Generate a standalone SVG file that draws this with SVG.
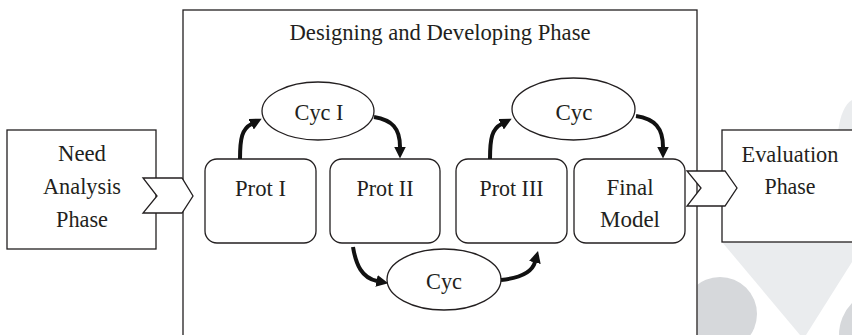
<svg xmlns="http://www.w3.org/2000/svg" width="852" height="335" viewBox="0 0 852 335">
<style>
.box{fill:#fff;stroke:#231f20;stroke-width:1.3}
.frame{fill:none;stroke:#231f20;stroke-width:1.3}
.t{font-size:24px;fill:#231f20;text-anchor:middle}
.conn{fill:none;stroke:#111;stroke-width:4}
.wl{fill:#eaecee}
.wd{fill:#d6d8db}
</style>
<defs>
<marker id="ah" viewBox="0 0 12 12" refX="0.5" refY="6" markerWidth="12" markerHeight="12" markerUnits="userSpaceOnUse" orient="auto">
<path d="M0,0 L12,6 L0,12 Z" fill="#111"/>
</marker>
<clipPath id="wm"><rect x="697.5" y="0" width="160" height="335"/></clipPath>
</defs>
<rect x="0" y="0" width="852" height="335" fill="#fff"/>
<g id="watermark" clip-path="url(#wm)">
<path class="wl" d="M852,100 C845,104 840,115 838,132 L852,132 Z"/>
<polygon class="wl" points="722,242 852,242 852,262 806,335 800,335"/>
<circle class="wd" cx="720" cy="314" r="37"/>
<circle class="wd" cx="885" cy="335" r="46"/>
</g>
<g font-family="Liberation Serif, Times New Roman, serif">
<g id="main-phase">
<rect class="frame" x="183" y="10" width="514" height="340"/>
<text class="t" x="440" y="40" textLength="301" lengthAdjust="spacingAndGlyphs">Designing and Developing Phase</text>
</g>
<g id="need-analysis">
<rect class="box" x="7" y="130" width="149" height="119"/>
<text class="t" x="82" y="161" textLength="48" lengthAdjust="spacingAndGlyphs">Need</text>
<text class="t" x="82" y="194" textLength="78" lengthAdjust="spacingAndGlyphs">Analysis</text>
<text class="t" x="82" y="227" textLength="52" lengthAdjust="spacingAndGlyphs">Phase</text>
</g>
<g id="evaluation">
<rect class="box" x="722" y="130" width="140" height="112"/>
<text class="t" x="790" y="162" textLength="97" lengthAdjust="spacingAndGlyphs">Evaluation</text>
<text class="t" x="790" y="194" textLength="51" lengthAdjust="spacingAndGlyphs">Phase</text>
</g>
<g id="chevron-in">
<polygon class="box" points="143,178 182,178 193,196 182,213 143,213 157,196"/>
</g>
<g id="chevron-out">
<polygon class="box" points="687,171 725,171 737,188 725,206 687,206 701,188"/>
</g>
<g id="prot1">
<rect class="box" x="205" y="159" width="111" height="84" rx="12"/>
<text class="t" x="260.5" y="196" textLength="51" lengthAdjust="spacingAndGlyphs">Prot I</text>
</g>
<g id="prot2">
<rect class="box" x="330" y="159" width="110" height="84" rx="12"/>
<text class="t" x="385" y="196" textLength="57" lengthAdjust="spacingAndGlyphs">Prot II</text>
</g>
<g id="prot3">
<rect class="box" x="456" y="159" width="111" height="84" rx="12"/>
<text class="t" x="511.5" y="196" textLength="64" lengthAdjust="spacingAndGlyphs">Prot III</text>
</g>
<g id="final-model">
<rect class="box" x="574" y="159" width="111" height="84" rx="12"/>
<text class="t" x="630" y="195" textLength="47" lengthAdjust="spacingAndGlyphs">Final</text>
<text class="t" x="630" y="227" textLength="60" lengthAdjust="spacingAndGlyphs">Model</text>
</g>
<g id="cyc1">
<ellipse class="box" cx="318" cy="111" rx="56" ry="29"/>
<text class="t" x="319" y="120" textLength="49" lengthAdjust="spacingAndGlyphs">Cyc I</text>
</g>
<g id="cyc2">
<ellipse class="box" cx="444" cy="279.5" rx="57" ry="30.5"/>
<text class="t" x="444" y="289" textLength="36" lengthAdjust="spacingAndGlyphs">Cyc</text>
</g>
<g id="cyc3">
<ellipse class="box" cx="573.5" cy="109" rx="61.5" ry="31"/>
<text class="t" x="574" y="120" textLength="37" lengthAdjust="spacingAndGlyphs">Cyc</text>
</g>
</g>
<g id="connectors">
<path class="conn" marker-end="url(#ah)" d="M240,159 C240,138 242,129 251.5,124"/>
<path class="conn" marker-end="url(#ah)" d="M374,117 C392,120 400,128 400,147"/>
<path class="conn" marker-end="url(#ah)" d="M353,247 C356,265 362,278 377,281"/>
<path class="conn" marker-end="url(#ah)" d="M501,280 C520,278 532,273 535,262"/>
<path class="conn" marker-end="url(#ah)" d="M490,159 C490,138 492,129 501.5,124"/>
<path class="conn" marker-end="url(#ah)" d="M636,116 C655,119 663,128 663,147"/>
</g>
</svg>
